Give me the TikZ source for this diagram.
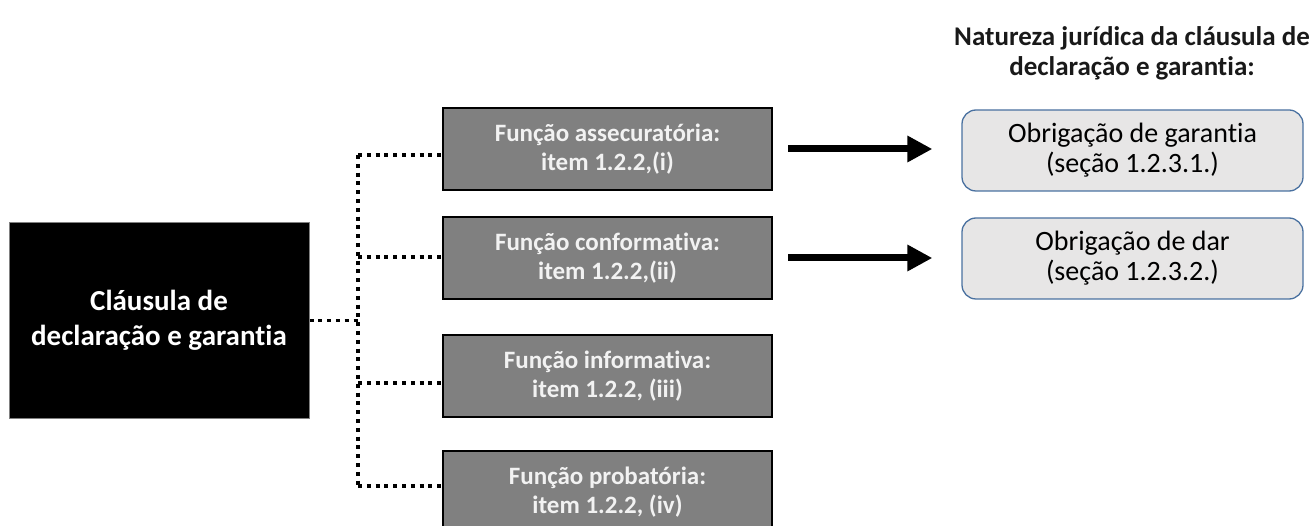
\documentclass[tikz,border=0pt]{standalone}
\usepackage{fontspec}
\setmainfont{Carlito}[Ligatures=NoCommon]
\usetikzlibrary{arrows.meta}
\definecolor{boxgray}{HTML}{808080}
\definecolor{boxtext}{HTML}{F2F2F2}
\definecolor{resfill}{HTML}{E7E6E6}
\definecolor{resedge}{HTML}{4A71A0}
\tikzset{
  mainbox/.style={draw=gray, line width=1pt, fill=black, text=white,
    minimum width=300pt, minimum height=195pt, align=center,
    font=\fontsize{29}{35}\selectfont\bfseries},
  funcbox/.style={draw=black, line width=2pt, fill=boxgray, text=boxtext,
    minimum width=329pt, minimum height=82pt, align=center,
    font=\fontsize{25}{29}\selectfont\bfseries},
  resbox/.style={draw=resedge, line width=1.3pt, fill=resfill, text=black,
    rounded corners=14pt, minimum width=341pt, minimum height=81pt,
    align=center, font=\fontsize{28}{30}\selectfont},
  heading/.style={align=center, text=black!90,
    font=\fontsize{27}{30}\selectfont\bfseries},
  dotline/.style={line width=3.6pt, dash pattern=on 4pt off 4.8pt},
  bigarrow/.style={line width=7pt, -{Triangle[length=25pt,width=25pt]}}
}
\begin{document}
\begin{tikzpicture}[x=1pt,y=-1pt]
\useasboundingbox (0,0) rectangle (1314,526);

% source clause
\node[mainbox] (clause) at (159,320.5) {Cláusula de\\declaração e garantia};

% the four functions
\node[funcbox] (f1) at (607.5,149) {Função assecuratória:\\item 1.2.2,(i)};
\node[funcbox] (f2) at (607.5,258) {Função conformativa:\\item 1.2.2,(ii)};
\node[funcbox] (f3) at (607.5,376) {Função informativa:\\item 1.2.2, (iii)};
\node[funcbox] (f4) at (607.5,492) {Função probatória:\\item 1.2.2, (iv)};

% legal nature
\node[heading] (title) at (1132,53) {Natureza jurídica da cláusula de\\declaração e garantia:};
\node[resbox] (r1) at (1132.5,150.5) {Obrigação de garantia\\(seção 1.2.3.1.)};
\node[resbox] (r2) at (1132.5,258.5) {Obrigação de dar\\(seção 1.2.3.2.)};

% dotted tree
\coordinate (j0) at (358,320.5);
\coordinate (j1) at (358,155);
\coordinate (j2) at (358,257);
\coordinate (j3) at (358,383);
\coordinate (j4) at (358,486);
\draw[dotline] (j1) -- (j4);
\draw[dotline] (clause.east |- j0) -- (j0);
\draw[dotline] (j1) -- (f1.west |- j1);
\draw[dotline] (j2) -- (f2.west |- j2);
\draw[dotline] (j3) -- (f3.west |- j3);
\draw[dotline] (j4) -- (f4.west |- j4);

% arrows
\draw[bigarrow, shorten <=15pt, shorten >=29pt] (f1.east) -- (f1.east -| r1.west);
\draw[bigarrow, shorten <=15pt, shorten >=29pt] (f2.east) -- (f2.east -| r2.west);
\end{tikzpicture}
\end{document}
